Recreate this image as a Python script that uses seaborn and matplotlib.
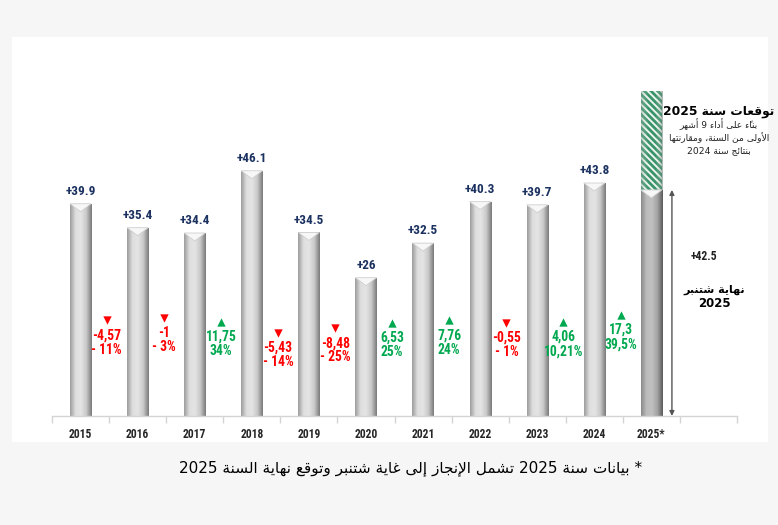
import numpy as np
import pandas as pd
import matplotlib
matplotlib.use('Agg')
import matplotlib.pyplot as plt
import seaborn as sns
from matplotlib import font_manager
from matplotlib.colors import LinearSegmentedColormap
from matplotlib.patches import Polygon, Rectangle

# data
years = ['2015', '2016', '2017', '2018', '2019', '2020', '2021', '2022', '2023', '2024', '2025*']
values = [39.9, 35.4, 34.4, 46.1, 34.5, 26.0, 32.5, 40.3, 39.7, 43.8, 42.5]
forecast_2025 = 61.1
changes = [-4.57, -1, 11.75, -5.43, -8.48, 6.53, 7.76, -0.55, 4.06, 17.3]
changes_pct = [-11, -3, 34, -14, -25, 25, 24, -1, 10.21, 39.5]

# vertical placement of the change labels (marker height, data units)
change_y = [18.0, 18.4, 17.7, 15.6, 16.5, 17.5, 18.0, 17.5, 17.7, 19.0]

footnote = '* بيانات سنة 2025 تشمل الإنجاز إلى غاية شتنبر وتوقع نهاية السنة 2025'
fc_title = 'توقعات سنة 2025'
fc_lines = ['بناءً على أداء 9 أشهر', 'الأولى من السنة، ومقارنتها', 'بنتائج سنة 2024']
end_sep = 'نهاية شتنبر'

# --- tiny arabic shaper (matplotlib has no shaping / bidi) ---
DUAL = {'ئ': 0xFE89, 'ب': 0xFE8F, 'ت': 0xFE95, 'ج': 0xFE9D, 'س': 0xFEB1, 'ش': 0xFEB5,
        'ع': 0xFEC9, 'غ': 0xFECD, 'ق': 0xFED5, 'ل': 0xFEDD, 'م': 0xFEE1, 'ن': 0xFEE5,
        'ه': 0xFEE9, 'ي': 0xFEF1}
RIGHT = {'أ': 0xFE83, 'إ': 0xFE87, 'ا': 0xFE8D, 'ة': 0xFE93, 'د': 0xFEA9, 'ر': 0xFEAD,
         'ز': 0xFEAF, 'و': 0xFEED, 'ى': 0xFEEF}
LAMALEF = {'أ': 0xFEF7, 'إ': 0xFEF9, 'ا': 0xFEFB}
MARKS = '\u064b\u064c\u064d\u064e\u064f\u0650\u0651\u0652'


def shape(word):
    toks = []
    i = 0
    while i < len(word):
        c = word[i]
        if c == 'ل' and i + 1 < len(word) and word[i + 1] in LAMALEF:
            toks.append(('LA', word[i + 1]))
            i += 2
        else:
            toks.append(('C', c))
            i += 1

    def jt(t):
        if t[0] == 'LA':
            return 'R'
        if t[1] in DUAL:
            return 'D'
        if t[1] in RIGHT:
            return 'R'
        if t[1] in MARKS:
            return 'T'
        return 'U'

    out = []
    for i, t in enumerate(toks):
        kind = jt(t)
        if kind in 'UT':
            out.append(t[1])
            continue
        j = i - 1
        while j >= 0 and jt(toks[j]) == 'T':
            j -= 1
        prev = j >= 0 and jt(toks[j]) == 'D'
        j = i + 1
        while j < len(toks) and jt(toks[j]) == 'T':
            j += 1
        nxt = kind == 'D' and j < len(toks) and jt(toks[j]) in 'DR'
        if t[0] == 'LA':
            base = LAMALEF[t[1]]
        else:
            base = DUAL.get(t[1], RIGHT.get(t[1]))
        if kind == 'R':
            out.append(chr(base + (1 if prev else 0)))
        else:
            out.append(chr(base + (3 if prev and nxt else 2 if nxt else 1 if prev else 0)))
    return ''.join(out)


def ar(text):
    vis = []
    for w in reversed(text.split(' ')):
        if any(0x0600 <= ord(c) <= 0x06FF for c in w):
            s = shape(w)
            clusters = []
            for c in s:
                if c in MARKS and clusters:
                    clusters[-1] += c
                else:
                    clusters.append(c)
            w = ''.join(reversed(clusters))
        vis.append(w)
    return ' '.join(vis)


sns.set_theme(style='white')
plt.rcParams['font.family'] = ['DejaVu Sans']
plt.rcParams['hatch.linewidth'] = 2.0

# pick a narrow font for the numbers if one is installed
_fonts = font_manager.fontManager.ttflist
_names = {f.name for f in _fonts}
NUM_FONT = ['DejaVu Sans']
NUM_STRETCH = 'normal'
num_scale = 0.86
for cand in ['Liberation Sans Narrow', 'Roboto Condensed', 'Open Sans Condensed', 'DejaVu Sans Condensed']:
    if cand in _names:
        NUM_FONT = [cand, 'DejaVu Sans']
        num_scale = 1.0
        break
else:
    if any(f.name == 'DejaVu Sans' and str(f.stretch) in ('condensed', 'semi-condensed') for f in _fonts):
        NUM_STRETCH = 'condensed'
        num_scale = 1.0

NAVY = '#1b3160'
RED = '#ff0000'
GREEN = '#00a84f'

df = pd.DataFrame({'year': years, 'value': values})
df['forecast'] = [np.nan] * (len(years) - 1) + [forecast_2025]

fig = plt.figure(figsize=(7.78, 5.25), dpi=100)
fig.patch.set_facecolor('#f6f6f6')
fig.add_artist(Rectangle((12 / 778, 83 / 525), 756 / 778, 405 / 525,
                         transform=fig.transFigure, facecolor='white', edgecolor='none', zorder=-5))
ax = fig.add_axes([52 / 778, 109 / 525, 685 / 778, 356.4 / 525])
ax.set_facecolor('none')

# forecast part (hatched), drawn first so the actual bar sits on top
sns.barplot(data=df, x='year', y='forecast', ax=ax, width=0.37, color='#eef5f0',
            edgecolor='#3a946a', linewidth=0, hatch='\\' * 5, zorder=1)
n_fc = len(ax.patches)
sns.barplot(data=df, x='year', y='value', ax=ax, width=0.37, color='#c8c8c8',
            linewidth=0, zorder=2)
bars = ax.patches[n_fc:]

cmap = LinearSegmentedColormap.from_list('cyl', ['#9d9d9d', '#dedede', '#e4e4e4', '#c9c9c9', '#7a7a7a'])
cmap_dark = LinearSegmentedColormap.from_list('cyl2', ['#8a8a8a', '#bcbcbc', '#c0c0c0', '#a4a4a4', '#5c5c5c'])
grad = np.linspace(0, 1, 80).reshape(1, -1)
for i, p in enumerate(bars):
    x0, w, h = p.get_x(), p.get_width(), p.get_height()
    if not np.isfinite(h) or h <= 0:
        continue
    im = ax.imshow(grad, cmap=cmap_dark if i == len(bars) - 1 else cmap,
                   extent=(x0, x0 + w, 0, h), aspect='auto', origin='lower', zorder=2.5)
    im.set_clip_path(p)
    ax.add_patch(Polygon([(x0, h), (x0 + w, h), (x0 + w / 2, h - 1.5)], closed=True,
                         facecolor='#f7f7f7', edgecolor='#cfcfcf', lw=0.6, zorder=3))
# soft shading on the sides of the hatched forecast bar
shade = LinearSegmentedColormap.from_list('sh', [(0.5, 0.6, 0.55, 0.45), (1, 1, 1, 0), (1, 1, 1, 0), (0.3, 0.4, 0.35, 0.5)])
for p in ax.patches[:n_fc]:
    h = p.get_height()
    if np.isfinite(h) and h > 0:
        im = ax.imshow(grad, cmap=shade, extent=(p.get_x(), p.get_x() + p.get_width(), 0, h),
                       aspect='auto', origin='lower', zorder=1.5)
        im.set_clip_path(p)

ax.set_xlim(-0.5, 11.5)
ax.set_ylim(0, 67)

# value labels above bars (not for 2025)
for i in range(len(values) - 1):
    ax.text(i, values[i] + 1.1, f'+{values[i]:g}', ha='center', va='bottom',
            fontsize=9.5 * num_scale, fontweight='bold', color=NAVY, family=NUM_FONT,
            fontstretch=NUM_STRETCH)

# year-over-year change labels
for k, (c, pc) in enumerate(zip(changes, changes_pct)):
    xi = k + 1 - 0.54
    col = GREEN if c > 0 else RED
    ax.scatter([xi], [change_y[k]], marker='^' if c > 0 else 'v', s=36, color=col,
               linewidths=0, zorder=4)
    t1 = f'{c:g}'.replace('.', ',')
    t2 = f'{pc:g}%'.replace('.', ',') if pc > 0 else f'- {abs(pc):g}%'.replace('.', ',')
    for dy, t in [(2.8, t1), (5.5, t2)]:
        ax.text(xi, change_y[k] - dy, t, ha='center', va='center', fontsize=9.8 * num_scale,
                fontweight='bold', color=col, family=NUM_FONT, fontstretch=NUM_STRETCH)

# end-of-september bracket for 2025
ax.annotate('', xy=(10.36, 0), xytext=(10.36, values[-1]),
            arrowprops=dict(arrowstyle='<|-|>', color='#555555', lw=1.0,
                            mutation_scale=7, shrinkA=0, shrinkB=0), annotation_clip=False)
ax.text(10.92, 29.9, f'+{values[-1]:g}', ha='center', va='center', fontsize=8.5 * num_scale,
        fontweight='bold', color='#222222', family=NUM_FONT, fontstretch=NUM_STRETCH)
ax.text(11.11, 23.7, ar(end_sep), ha='center', va='center', fontsize=8,
        fontweight='bold', color='black', clip_on=False)
ax.text(11.11, 21.1, '2025', ha='center', va='center', fontsize=8.5,
        fontweight='bold', color='black', clip_on=False)

# forecast note, top right
ax.text(11.18, 57.2, ar(fc_title), ha='center', va='center', fontsize=8.8,
        fontweight='bold', color='black', clip_on=False)
for yy, line in zip([54.8, 52.4, 49.9], fc_lines):
    ax.text(11.18, yy, ar(line), ha='center', va='center', fontsize=6.6,
            color='#222222', clip_on=False)

# axes styling
for s in ['top', 'right', 'left']:
    ax.spines[s].set_visible(False)
ax.spines['bottom'].set_color('#d4d4d4')
ax.spines['bottom'].set_linewidth(1.0)
ax.set_yticks([])
ax.set_xlabel('')
ax.set_ylabel('')
ax.set_xticks(range(len(years)))
ax.set_xticklabels(years, fontsize=8.3 * num_scale, fontweight='bold', family=NUM_FONT,
                   fontstretch=NUM_STRETCH)
ax.set_xticks(np.arange(-0.5, 12, 1), minor=True)
ax.tick_params(axis='x', which='major', length=0, pad=9)
ax.tick_params(axis='x', which='minor', length=5, color='#d4d4d4', width=1, bottom=True)

fig.text(411 / 778, 1 - 468 / 525, ar(footnote), ha='center', va='center',
         fontsize=11, color='black')

fig.savefig('out.png', dpi=100, facecolor=fig.get_facecolor())
